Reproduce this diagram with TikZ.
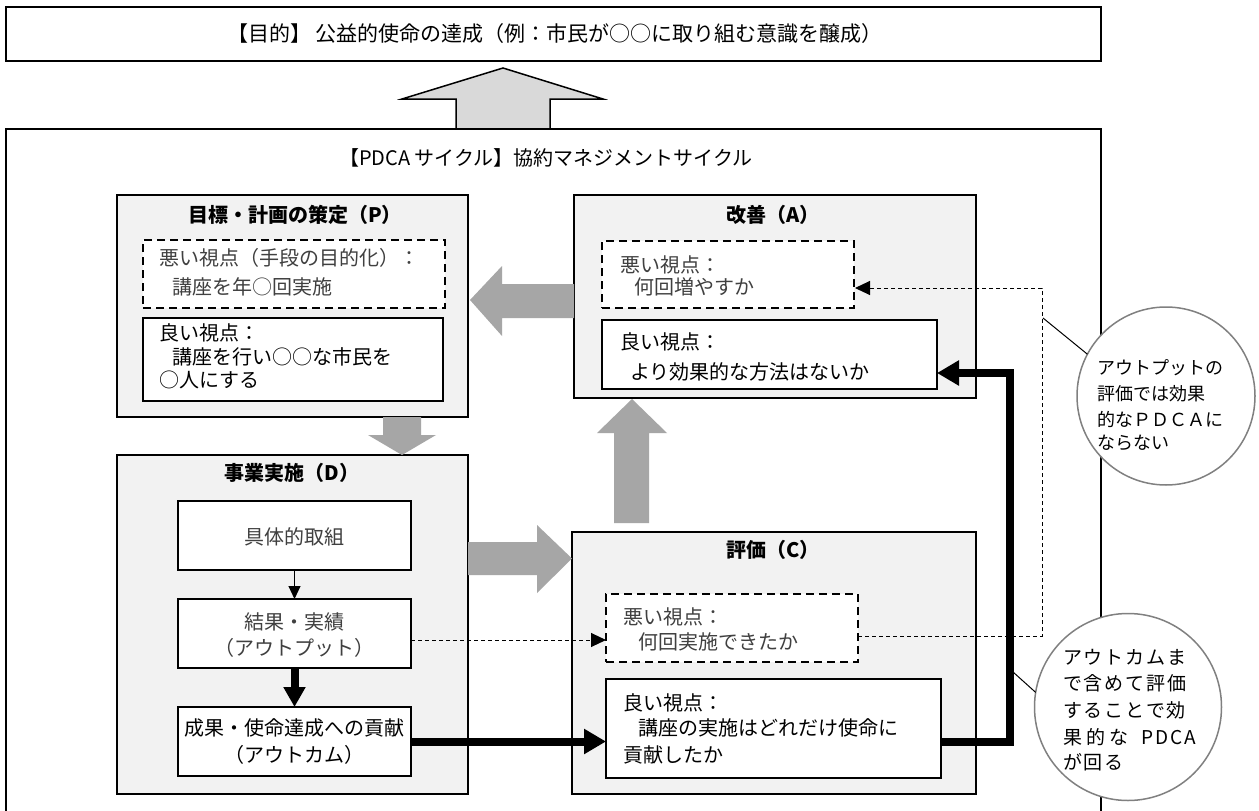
\documentclass[tikz,border=0pt]{standalone}
\usepackage{fontspec}
\setmainfont{Noto Sans CJK JP}
\newfontfamily\jpwide[LetterSpace=10]{Noto Sans CJK JP}
\usetikzlibrary{arrows.meta}
\definecolor{boxfill}{HTML}{F2F2F2}
\definecolor{arrowgray}{HTML}{A6A6A6}
\definecolor{upfill}{HTML}{D9D9D9}
\definecolor{badtext}{HTML}{404040}
\definecolor{circlegray}{HTML}{808080}
\begin{document}
\begin{tikzpicture}[x=1pt,y=-1pt,
  every node/.style={inner sep=0pt,outer sep=0pt},
  frame/.style={draw=black,line width=2pt,fill=white,rectangle},
  phase/.style={draw=black,line width=2pt,fill=boxfill,rectangle},
  badbox/.style={draw=black,line width=2pt,dash pattern=on 8pt off 5pt,fill=white,rectangle},
  goodbox/.style={draw=black,line width=2pt,fill=white,rectangle},
  ptitle/.style={font=\fontsize{20}{24}\selectfont\bfseries},
  badtxt/.style={font=\fontsize{20}{24}\selectfont,text=badtext,anchor=west},
  goodtxt/.style={font=\fontsize{20}{24}\selectfont,anchor=west},
  badc/.style={font=\fontsize{20}{24}\selectfont,text=badtext},
  goodc/.style={font=\fontsize{20}{24}\selectfont},
  blockarrow/.style={fill=arrowgray,draw=none},
  thickconn/.style={line width=8pt,line join=miter,-{Triangle[length=22pt,width=24pt]}},
  thinconn/.style={line width=1pt,-{Triangle[length=13pt,width=12pt]}},
  dashconn/.style={line width=1pt,dash pattern=on 4pt off 3pt,-{Triangle[length=15pt,width=14pt]}},
  bubble/.style={circle,draw=circlegray,line width=1.5pt,fill=white},
  bubtxt/.style={font=\fontsize{18}{22}\selectfont,anchor=west},
  bubtxtw/.style={font=\jpwide\fontsize{19}{22}\selectfont,anchor=west}
]
\useasboundingbox (0,0) rectangle (1259,811);
\clip (0,0) rectangle (1259,811);
\fill[white] (0,0) rectangle (1259,811);

% top purpose box
\node[frame,minimum width=1095pt,minimum height=54pt] (top) at (553.5,34) {};
\node[font=\fontsize{21}{25}\selectfont] (toptxt) at (555,34) {【目的】 公益的使命の達成（例：市民が○○に取り組む意識を醸成）};

% up arrow
\filldraw[fill=upfill,draw=black,line width=1.5pt,line join=miter]
  (456,129) -- (456,99) -- (402,99) -- (503,68) -- (603,99) -- (550,99) -- (550,129) -- cycle;

% outer PDCA frame
\node[frame,minimum width=1095pt,minimum height=701pt] (outer) at (553.5,479.5) {};
\node[anchor=west,font=\fontsize{20}{24}\selectfont] (pdcatitle) at (339,158) {【PDCA サイクル】協約マネジメントサイクル};

% phase boxes
\node[phase,minimum width=351pt,minimum height=222pt] (P) at (292.5,306) {};
\node[phase,minimum width=402pt,minimum height=203pt] (A) at (775,296.5) {};
\node[phase,minimum width=351pt,minimum height=339pt] (D) at (292.5,624.5) {};
\node[phase,minimum width=404pt,minimum height=262pt] (C) at (774,663) {};

% inner boxes
\node[badbox,minimum width=302pt,minimum height=68pt] (Pbad) at (294,274) {};
\node[goodbox,minimum width=300pt,minimum height=83pt] (Pgood) at (293,359.5) {};
\node[badbox,minimum width=252pt,minimum height=67pt] (Abad) at (728,274.5) {};
\node[goodbox,minimum width=335pt,minimum height=69pt] (Agood) at (769.5,354.5) {};
\node[goodbox,minimum width=233pt,minimum height=69pt] (D1) at (294.5,535.5) {};
\node[goodbox,minimum width=233pt,minimum height=69pt] (D2) at (294.5,633.5) {};
\node[goodbox,minimum width=233pt,minimum height=69pt] (D3) at (294.5,741.5) {};
\node[badbox,minimum width=252pt,minimum height=68pt] (Cbad) at (732,628) {};
\node[goodbox,minimum width=335pt,minimum height=99pt] (Cgood) at (773.5,728.5) {};

% gray block arrows
\fill[blockarrow] (574,284) -- (502,284) -- (502,266) -- (470,300) -- (502,336) -- (502,318) -- (574,318) -- cycle;
\fill[blockarrow] (383,417) -- (383,435) -- (368,435) -- (402,455) -- (436,435) -- (421,435) -- (421,417) -- cycle;
\fill[blockarrow] (468,542) -- (537,542) -- (537,525) -- (572,558.5) -- (537,593) -- (537,575) -- (468,575) -- cycle;
\fill[blockarrow] (614,523) -- (614,433) -- (597,433) -- (632,399) -- (667,433) -- (649,433) -- (649,523) -- cycle;

% connector points
\coordinate (d2out) at (411,640);
\coordinate (cbin) at (606,640);
\coordinate (cbout) at (858,636);
\coordinate (dr1) at (1042,636);
\coordinate (dr2) at (1042,288);
\coordinate (abin) at (855,288);
\coordinate (cgout) at (941,742);
\coordinate (tr1) at (1010,742);
\coordinate (tr2) at (1010,373);
\coordinate (agin) at (937,373);
\coordinate (p1) at (1043,318);
\coordinate (p2) at (1013,672);

% connectors
\draw[thinconn] (D1.south) -- (D2.north);
\draw[line width=8pt,-{Triangle[length=20pt,width=21pt]}] (D2.south) -- (D3.north);
\draw[thickconn] (D3.east) -- (D3.east -| Cgood.west);
\draw[thickconn] (cgout) -- (tr1) -- (tr2) -- (agin);
\draw[dashconn] (d2out) -- (cbin);
\draw[dashconn] (cbout) -- (dr1) -- (dr2) -- (abin);

% bubbles
\node[bubble,minimum size=178pt] (c1) at (1166,396) {};
\node[bubble,minimum size=187pt] (c2) at (1128,707) {};
\draw[line width=1pt] (p1) -- (c1.152);
\draw[line width=1pt] (p2) -- (c2.171);

% titles
\node[ptitle] (tP) at (295,215) {目標・計画の策定（P）};
\node[ptitle] (tA) at (773,215) {改善（A）};
\node[ptitle] (tD) at (292,473) {事業実施（D）};
\node[ptitle] (tC) at (773,550) {評価（C）};

% P texts
\node[badtxt] (pb1) at (159,258) {悪い視点（手段の目的化）：};
\node[badtxt] (pb2) at (172,287) {講座を年○回実施};
\node[goodtxt] (pg1) at (159,333) {良い視点：};
\node[goodtxt] (pg2) at (172,357) {講座を行い○○な市民を};
\node[goodtxt] (pg3) at (159,380) {○人にする};

% A texts
\node[badtxt] (ab1) at (620,265) {悪い視点：};
\node[badtxt] (ab2) at (634,287) {何回増やすか};
\node[goodtxt] (ag1) at (620,342) {良い視点：};
\node[goodtxt] (ag2) at (630,372) {より効果的な方法はないか};

% D texts
\node[badc] (d1t) at (294.5,537) {具体的取組};
\node[badc] (d2t1) at (294.5,622) {結果・実績};
\node[badc] (d2t2) at (294.5,648) {（アウトプット）};
\node[goodc] (d3t1) at (294.5,728) {成果・使命達成への貢献};
\node[goodc] (d3t2) at (294.5,755) {（アウトカム）};

% C texts
\node[badtxt] (cb1) at (623,617) {悪い視点：};
\node[badtxt] (cb2) at (638,642) {何回実施できたか};
\node[goodtxt] (cg1) at (623,703) {良い視点：};
\node[goodtxt] (cg2) at (638,728) {講座の実施はどれだけ使命に};
\node[goodtxt] (cg3) at (623,755) {貢献したか};

% bubble texts
\node[bubtxt] (b11) at (1097,368) {アウトプットの};
\node[bubtxt] (b12) at (1097,394) {評価では効果};
\node[bubtxt] (b13) at (1097,419) {的なＰＤＣＡに};
\node[bubtxt] (b14) at (1097,443) {ならない};

\node[bubtxtw] (b21) at (1063,657) {アウトカムま};
\node[bubtxtw] (b22) at (1063,683) {で含めて評価};
\node[bubtxtw] (b23) at (1063,710) {することで効};
\node[bubtxtw] (b24) at (1063,737) {果\hspace{4pt}的\hspace{4pt}な\hspace{14pt}PDCA};
\node[bubtxtw] (b25) at (1063,762) {が回る};
\end{tikzpicture}
\end{document}
